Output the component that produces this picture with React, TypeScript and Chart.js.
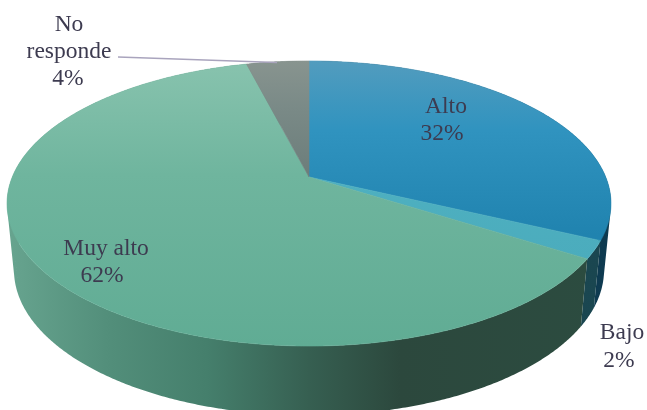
import React, { useEffect, useRef } from "react";
import { Chart, registerables } from "chart.js";

Chart.register(...registerables);

const categories = ["Alto", "Bajo", "Muy alto", "No responde"];
const values = [32, 2, 62, 4];
const labelLines = [["Alto"], ["Bajo"], ["Muy alto"], ["No", "responde"]];
const sliceColors = ["#2f92bd", "#4eb0c0", "#6ab39b", "#7a8a87"];
const topStops = [
  ["#529cbe", "#3093bf", "#2083af"],
  ["#52b3c4", "#4eb0c0", "#48a8ba"],
  ["#88c3ae", "#6fb59e", "#60ac94"],
  ["#88948f", "#7a8a87", "#6c7d7a"],
];
const wallStops: [number, string][][] = [
  [[0, "#17485c"], [1, "#0e3a50"]],
  [[0, "#1d4d58"], [1, "#1a4650"]],
  [[0, "#67a48f"], [0.17, "#528e7a"], [0.33, "#457f6c"], [0.5, "#365f51"], [0.65, "#2c483d"], [1, "#2c4c40"]],
  [[0, "#55625f"], [1, "#55625f"]],
];
const labelPos = [
  [[446, 113], [442, 140]],
  [[622, 339], [619, 367]],
  [[106, 255], [102, 282]],
  [[69, 31], [69, 58], [68, 85]],
];

const CX = 309, AY = 177, R = 296.7, S = 137.6, K = 0.186;
const topPt = (a: number) => {
  const u = Math.cos(a), v = Math.sin(a), s = 1 / (1 - K * v);
  return [CX + R * u * s, AY + S * v * s];
};
const botPt = (a: number) => {
  const u = Math.cos(a), v = Math.sin(a), s = 1 / (1 - K * v);
  return [CX + R * 0.977 * u * s, AY + 66 + S * 1.02 * v * s];
};
const arcPts = (f: (a: number) => number[], a0: number, a1: number) => {
  const n = Math.max(2, Math.ceil((a1 - a0) / 0.008));
  const out: number[][] = [];
  for (let i = 0; i <= n; i++) out.push(f(a0 + ((a1 - a0) * i) / n));
  return out;
};
const trace = (ctx: CanvasRenderingContext2D, pts: number[][]) => {
  ctx.beginPath();
  pts.forEach((p, i) => (i ? ctx.lineTo(p[0], p[1]) : ctx.moveTo(p[0], p[1])));
  ctx.closePath();
};
const traceWall = (ctx: CanvasRenderingContext2D, a0: number, a1: number) => {
  const t = arcPts(topPt, a0, a1);
  const b = arcPts(botPt, a0, a1);
  ctx.beginPath();
  for (let i = 0; i + 1 < t.length; i++) {
    const q = [t[i], t[i + 1], b[i + 1], b[i]];
    let area = 0;
    q.forEach((p, j) => {
      const r = q[(j + 1) % 4];
      area += p[0] * r[1] - r[0] * p[1];
    });
    if (area < 0) q.reverse();
    q.forEach((p, j) => (j ? ctx.lineTo(p[0], p[1]) : ctx.moveTo(p[0], p[1])));
    ctx.closePath();
  }
};

const pie3d = {
  id: "pie3d",
  beforeDatasetsDraw(chart: any) {
    const ctx: CanvasRenderingContext2D = chart.ctx;
    const arcs = chart.getDatasetMeta(0).data;
    arcs.forEach((arc: any, i: number) => {
      const g = ctx.createLinearGradient(8, 0, 611, 0);
      wallStops[i].forEach(([o, c]) => g.addColorStop(o, c));
      traceWall(ctx, arc.startAngle, arc.endAngle);
      ctx.fillStyle = g;
      ctx.fill();
    });
    arcs.forEach((arc: any, i: number) => {
      const g = ctx.createLinearGradient(0, 61, 0, i === 3 ? 177 : i === 0 ? 235 : 346);
      g.addColorStop(0, topStops[i][0]);
      g.addColorStop(0.4, topStops[i][1]);
      g.addColorStop(1, topStops[i][2]);
      trace(ctx, [[CX, AY], ...arcPts(topPt, arc.startAngle, arc.endAngle)]);
      ctx.fillStyle = g;
      ctx.strokeStyle = g;
      ctx.lineWidth = 0.6;
      ctx.fill();
      ctx.stroke();
    });
    ctx.beginPath();
    ctx.moveTo(118, 57);
    ctx.lineTo(277, 62.5);
    ctx.strokeStyle = "#a9a4bd";
    ctx.lineWidth = 1.5;
    ctx.stroke();

    ctx.font = "23.5px 'Liberation Serif'";
    ctx.textAlign = "center";
    ctx.textBaseline = "alphabetic";
    ctx.fillStyle = "#3d3b50";
    values.forEach((val, i) => {
      const lines = [...labelLines[i], `${val}%`];
      lines.forEach((t, j) => ctx.fillText(t, labelPos[i][j][0], labelPos[i][j][1]));
    });
    return false;
  },
};

export default function App() {
  const ref = useRef<HTMLCanvasElement>(null);
  useEffect(() => {
    const chart = new Chart(ref.current!, {
      type: "pie",
      data: {
        labels: categories,
        datasets: [{ data: values, backgroundColor: sliceColors, borderWidth: 0 }],
      },
      options: {
        responsive: false,
        animation: false,
        plugins: { legend: { display: false }, tooltip: { enabled: false } },
      },
      plugins: [pie3d],
    } as any);
    return () => chart.destroy();
  }, []);
  return (
    <canvas
      ref={ref}
      width={647}
      height={410}
      style={{ position: "absolute", left: 0, top: 0, width: 647, height: 410 }}
    />
  );
}
